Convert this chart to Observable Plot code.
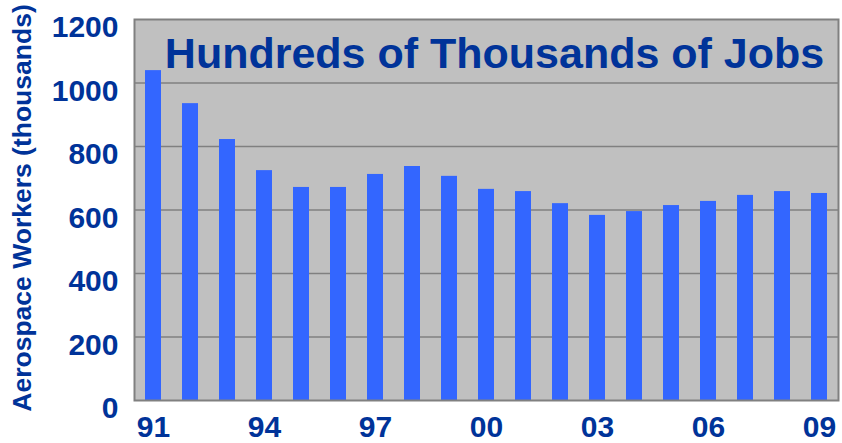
<!DOCTYPE html>
<html>
<head>
<meta charset="utf-8">
<script src="https://cdn.jsdelivr.net/npm/d3@7"></script>
<script src="https://cdn.jsdelivr.net/npm/@observablehq/plot@0.6"></script>
<style>
  html, body { margin: 0; padding: 0; background: #fff; }
  #chart { width: 842px; height: 443px; }
</style>
</head>
<body>
<div id="chart"></div>
<script>
const years = ["91","92","93","94","95","96","97","98","99","00","01","02","03","04","05","06","07","08","09"];
const workers = [1039, 935, 822, 724, 671, 671, 712, 737, 706, 665, 658, 620, 583, 595, 614, 627, 646, 658, 652];
const yTicks = [0, 200, 400, 600, 800, 1000, 1200];
const xTickLabels = ["91", "94", "97", "00", "03", "06", "09"];
const titleText = "Hundreds of Thousands of Jobs";
const yLabelText = "Aerospace Workers (thousands)";

const data = years.map((y, i) => ({year: y, value: workers[i]}));
const textColor = "#003399";
const font = "'Liberation Sans', Arial, Helvetica, sans-serif";

const chart = Plot.plot({
  width: 842,
  height: 443,
  marginLeft: 134,
  marginRight: 4,
  marginTop: 19,
  marginBottom: 43,
  style: {fontFamily: font, background: "white", overflow: "visible"},
  x: {domain: years, paddingInner: 0.57, paddingOuter: 0.285, label: null, axis: null},
  y: {domain: [0, 1200], label: null, axis: null},
  marks: [
    Plot.frame({fill: "#c0c0c0", stroke: "none"}),
    Plot.gridY(yTicks.filter(v => v > 0 && v < 1200), {stroke: "#808080", strokeOpacity: 1, strokeWidth: 1.5}),
    Plot.barY(data, {x: "year", y: "value", fill: "#3366ff"}),
    Plot.frame({stroke: "#808080", strokeWidth: 2}),
    Plot.axisX(xTickLabels, {tickSize: 0, tickPadding: 15, fontSize: 30, fontWeight: "bold", color: textColor, label: null}),
    Plot.axisY(yTicks, {tickSize: 0, tickPadding: 16, fontSize: 30, fontWeight: "bold", color: textColor, dy: 8, label: null, tickFormat: d => String(d)}),
    Plot.text([titleText], {text: d => d, frameAnchor: "top", dx: 8, dy: 18, lineAnchor: "top", fontSize: 43, fontWeight: "bold", fill: textColor}),
    Plot.text([yLabelText], {text: d => d, frameAnchor: "left", dx: -112, dy: -2, rotate: -90, textAnchor: "middle", lineAnchor: "middle", fontSize: 26.5, fontWeight: "bold", fill: textColor})
  ]
});
document.getElementById("chart").appendChild(chart);
</script>
</body>
</html>
